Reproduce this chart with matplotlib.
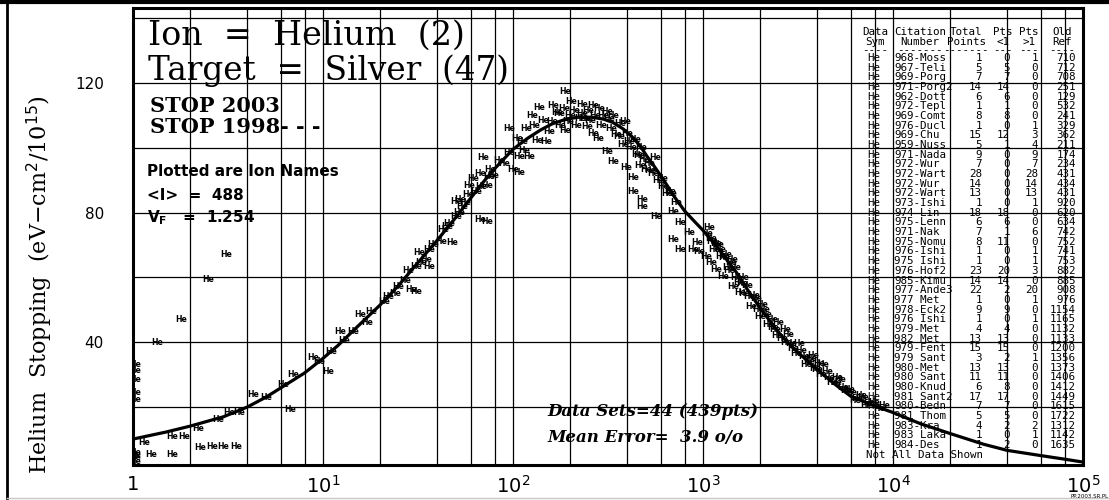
import matplotlib
matplotlib.use("Agg")
import matplotlib.pyplot as plt
from matplotlib.lines import Line2D

W, H = 1109, 500

# STOP 2003 stopping curve for He in Ag (energy, stopping)
stop_energy = [1, 1.5, 2, 3, 4, 5, 6, 8, 10, 12, 15, 20, 25, 30, 40, 50, 60, 70, 80,
               100, 120, 140, 160, 190, 220, 260, 300, 335, 380, 430, 470, 505, 550,
               600, 650, 700, 800, 900, 1000, 1200, 1350, 1500, 1700, 2000, 2500, 3000,
               4000, 5000, 6000, 8000, 1e4, 1.4e4, 2e4, 3e4, 4e4, 6e4, 8e4, 1e5]
stop_value = [10.1, 12.3, 14.1, 17.0, 20.0, 23.0, 25.9, 30.5, 35.0, 39.0, 44.5, 51.5,
              57.5, 63.0, 71.5, 78.5, 84.5, 89.5, 93.5, 99.5, 103.0, 105.5, 107.3,
              108.8, 109.4, 109.4, 108.8, 107.8, 105.8, 103.0, 100.3, 97.5, 94.5, 91.3,
              88.2, 85.2, 80.5, 77.3, 74.5, 69.0, 65.0, 61.5, 56.5, 50.5, 43.0, 38.0,
              31.5, 26.8, 23.3, 20.3, 18.3, 14.8, 11.8, 8.5, 6.6, 5.0, 3.9, 3.0]

# measured data points, plotted as ion names
pt_energy = [
    2.5, 3.1, 1.8, 1.34,
    1.03, 1.03, 1.03, 1.03, 1.03, 1.03, 1.03, 1.03, 1.03,
    1.15, 1.25, 1.6, 2.25, 2.6, 3.0, 3.5,
    1.6, 1.85, 2.2, 3.2, 3.6, 4.3, 6.7, 6.2, 7.0, 8.9, 10.6, 12.3, 14.4, 15.6,
    2.8, 5.0, 9.5, 11, 13, 17, 18,
    22, 25, 29, 31, 31, 32, 35, 36, 36, 43, 45, 48, 50, 50, 53, 54, 59, 62, 67, 67,
    70, 73, 73, 76, 79, 96, 100, 105, 108, 108, 118, 122, 126, 134, 138, 144, 150,
    163, 177, 188, 188, 203, 225, 232, 264, 264, 280, 313, 313, 337, 337, 366, 394,
    428, 428, 465, 480, 480, 505, 570, 670, 700, 700, 760, 760, 850, 890, 930, 960,
    1040, 1100, 1180, 1270, 1450, 1560,
    160, 170, 200, 215, 240, 250, 290, 300, 350, 380, 400, 420, 450, 470, 520, 550,
    580, 620, 650, 720,
    1100, 1150, 1200, 1300, 1350, 1400, 1500, 1600, 1650, 1800, 1900, 2000, 2100,
    2200, 2400, 2500, 2600, 2800, 3000, 3200, 3400, 3600, 3800, 4000, 4300, 4600,
    5000, 5300, 5700, 6000, 6500, 7000, 7500,
    1050, 1080, 1120, 1170, 1230, 1250, 1320, 1380, 1420, 1480, 1550, 1620, 1700,
    1750, 1850, 1950, 2050, 2150, 2300, 2350, 2450, 2700, 2750, 2900, 3100, 3300,
    3500, 3700, 3900, 4100, 4200, 4500, 4800, 5100, 5500, 5900, 6300, 6800, 7200,
    8000, 8500, 9000,
    130, 155, 175, 185, 195, 210, 230, 245, 255, 270, 285, 320, 330, 360, 390, 410,
    440, 460, 490, 530, 560, 610, 680,
    21, 24, 27, 28, 33, 38, 42, 46, 52, 56, 58, 64, 68, 75, 85, 90, 95, 112, 115,
]
pt_value = [
    59.4, 67.0, 47.0, 40.0,
    33.0, 31.4, 28.4, 24.4, 22.2, 6.1, 5.2, 4.3, 3.3,
    8.9, 5.2, 5.2, 7.4, 7.7, 7.7, 7.7,
    10.8, 10.8, 13.4, 18.2, 18.2, 23.8, 19.1, 26.9, 29.9, 35.4, 30.9, 43.4, 43.4, 48.4,
    16.0, 23.0, 34.0, 37.0, 40.5, 46.0, 49.5,
    54.1, 57.2, 56.3, 55.7, 63.4, 67.7, 65.6, 68.7, 63.4, 74.8, 75.8, 70.8, 83.4, 78.9,
    84.1, 82.0, 88.2, 90.4, 91.9, 77.9, 97.1, 88.2, 77.3, 93.4, 91.3, 105.8, 93.4,
    102.7, 97.4, 92.4, 105.8, 97.4, 109.8, 102.1, 112.4, 108.3, 101.8, 112.9, 106.7,
    117.3, 105.2, 114.4, 108.9, 113.4, 112.9, 104.3, 102.7, 111.1, 98.7, 109.8, 95.6,
    107.4, 94.0, 90.9, 86.4, 94.4, 84.1, 82.0, 93.4, 78.9, 86.4, 80.4, 71.7, 77.0,
    68.7, 73.9, 68.7, 70.8, 68.0, 66.4, 64.6, 62.4, 60.4, 57.2, 55.3,
    108, 111, 110, 107, 109, 111.5, 107, 110, 104, 101, 104.5, 100, 98, 100, 95, 92,
    90, 88, 86, 83,
    72, 68.5, 70, 66, 63, 64.5, 60, 58, 55, 51, 53.5, 48, 50, 45.5, 44, 46, 41,
    42.5, 38, 39.5, 35.5, 34, 36, 31.5, 33, 29, 27.5, 28.5, 25, 24.5, 22.5, 23, 21.5,
    73.5, 75.5, 71, 70.5, 68.5, 66.5, 67, 62, 65.5, 63, 58.5, 60, 57.5,
    54, 54.5, 50, 51.5, 48.5, 47, 44.5, 42, 44, 40, 39.5, 36.5, 37.5,
    33, 35, 32, 33.5, 30, 31, 27.5, 29, 26, 25.5, 22, 23.5, 20.5,
    21.5, 19.5, 20.5,
    107, 105, 110.5, 112, 108, 111.5, 110.5, 106.5, 108.5, 110, 112, 109, 106, 103.5,
    108, 102, 102.5, 97.5, 96.5, 93, 97, 90.5, 86,
    52.5, 55, 59, 62, 64.5, 70, 71, 76.5, 80, 83, 85.5, 86.5, 88, 91, 96, 95, 98.5,
    102, 99,
]

# grid lines and tick labels
grid_x = [m * 10 ** k for k in range(5) for m in (2, 4, 6, 8)] + [10 ** k for k in range(1, 5)]
grid_y = [20, 40, 60, 80, 100, 120, 140]
ytick_vals = [40, 80, 120]
xtick_vals = [1, 1e1, 1e2, 1e3, 1e4, 1e5]
xtick_text = ['1', r'$10^{1}$', r'$10^{2}$', r'$10^{3}$', r'$10^{4}$', r'$10^{5}$']

# data-set table
tbl_sym = ['He'] * 41
tbl_cit = ['968-Moss', '967-Teli', '969-Porg', '971-Porg2', '962-Dott', '972-Tepl',
           '969-Comt', '976-Ducl', '969-Chu', '959-Nuss', '971-Nada', '972-Wur',
           '972-Wart', '972-Wur', '972-Wart', '973-Ishi', '974-Lin', '975-Lenn',
           '971-Nak', '975-Nomu', '976-Ishi', '975 Ishi', '976-Hof2', '985-Kimu',
           '977-Ande3', '977 Met', '978-Eck2', '976 Ishi', '979-Met', '982 Met',
           '979-Fent', '979 Sant', '980-Met', '980 Sant', '980-Knud', '981 Sant2',
           '980-Bedn', '981 Thom', '983-Kra', '983 Laka', '984-Des']
tbl_total = ['1', '5', '7', '14', '6', '1', '8', '1', '15', '5', '9', '7', '28', '14',
             '13', '1', '18', '6', '7', '8', '1', '1', '23', '14', '22', '1', '9', '1',
             '4', '13', '15', '3', '13', '11', '6', '17', '7', '5', '4', '1', '1']
tbl_lt1 = ['0', '5', '7', '14', '6', '1', '8', '0', '12', '1', '0', '0', '0', '0', '0',
           '0', '18', '6', '1', '11', '0', '0', '20', '14', '2', '0', '9', '0', '4',
           '13', '15', '2', '13', '11', '8', '17', '7', '5', '2', '0', '2']
tbl_gt1 = ['1', '0', '0', '0', '0', '0', '0', '1', '3', '4', '9', '7', '28', '14', '13',
           '1', '0', '0', '6', '0', '1', '1', '3', '0', '20', '1', '0', '1', '0', '0',
           '0', '1', '0', '0', '0', '0', '0', '0', '2', '1', '0']
tbl_ref = ['710', '712', '708', '251', '129', '532', '241', '329', '362', '211', '174',
           '234', '431', '434', '431', '920', '620', '634', '742', '752', '741', '753',
           '882', '885', '908', '976', '1154', '1165', '1132', '1133', '1200', '1356',
           '1373', '1406', '1412', '1449', '1615', '1722', '1312', '1142', '1635']


def fx(x):
    return x / W


def fy(y):
    return 1 - y / H


fig = plt.figure(figsize=(W / 100, H / 100), dpi=100)
fig.patch.set_facecolor('white')
ax = fig.add_axes([fx(133), fy(465), (1083 - 133) / W, (465 - 8) / H])
ax.set_xscale('log')
ax.set_xlim(1, 1e5)
ax.set_ylim(2.1, 143.1)

for gx in grid_x:
    ax.axvline(gx, color='black', lw=0.9, zorder=1)
for gy in grid_y:
    ax.axhline(gy, color='black', lw=0.9, zorder=1)

ax.plot(stop_energy, stop_value, color='black', lw=2.3, zorder=3,
        solid_joinstyle='round')

for e, s in zip(pt_energy, pt_value):
    ax.text(e, s, 'He', fontsize=5.6, ha='center', va='center', color='black',
            family='DejaVu Sans', fontweight='bold', clip_on=True, zorder=4)

for sp in ax.spines.values():
    sp.set_linewidth(2.2)
    sp.set_color('black')

ax.set_yticks(ytick_vals)
ax.set_yticklabels([str(v) for v in ytick_vals], fontsize=11, family='DejaVu Sans')
ax.set_xticks(xtick_vals)
ax.set_xticklabels(xtick_text, fontsize=14, family='DejaVu Sans')
ax.xaxis.set_minor_locator(matplotlib.ticker.NullLocator())
ax.tick_params(axis='y', length=0, pad=21)
ax.tick_params(axis='x', length=0, pad=7)

fig.text(fx(40), fy(285), r'Helium  Stopping  (eV$-$cm$^2$/10$^{15}$)', rotation=90,
         ha='center', va='center', fontsize=16, family='DejaVu Serif')

# headings inside the plot
fig.text(fx(148), fy(45), 'Ion  =  Helium  (2)', fontsize=24, family='DejaVu Serif',
         ha='left', va='baseline')
fig.text(fx(148), fy(80), 'Target  =  Silver  (47)', fontsize=23.5, family='DejaVu Serif',
         ha='left', va='baseline')
fig.text(fx(150), fy(112), 'STOP 2003', fontsize=15, family='DejaVu Serif',
         fontweight='bold', ha='left', va='baseline')
fig.text(fx(150), fy(133), 'STOP 1998- - -', fontsize=15, family='DejaVu Serif',
         fontweight='bold', ha='left', va='baseline')
fig.text(fx(147), fy(171), 'Plotted are Ion Names', fontsize=11, family='DejaVu Sans',
         fontweight='bold', ha='left', va='center')
fig.text(fx(147), fy(195), '<I>  =  488', fontsize=11, family='DejaVu Sans',
         fontweight='bold', ha='left', va='center')
fig.text(fx(147), fy(218), r'V$_\mathbf{F}$   =  1.254', fontsize=11, family='DejaVu Sans',
         fontweight='bold', ha='left', va='center')

fig.text(fx(547), fy(412), 'Data Sets=44 (439pts)', fontsize=12, family='DejaVu Serif',
         fontweight='bold', style='italic', ha='left', va='center')
fig.text(fx(547), fy(437), 'Mean Error=  3.9 o/o', fontsize=12, family='DejaVu Serif',
         fontweight='bold', style='italic', ha='left', va='center')

# data-set table
tfont = dict(fontsize=7.8, family='DejaVu Sans Mono', va='center', color='black')
headers = [('Data', 'Sym', 875), ('Citation', 'Number', 920), ('Total', 'Points', 966),
           ('Pts', '<1', 1003), ('Pts', '>1', 1029), ('Old', 'Ref', 1062)]
for h1, h2, cx in headers:
    fig.text(fx(cx), fy(32), h1, ha='center', **tfont)
    fig.text(fx(cx), fy(42), h2, ha='center', **tfont)
    fig.text(fx(cx), fy(50), '-' * min(len(h2) + 1, 7), ha='center', **tfont)

row0, dy = 58, 9.675
for i in range(len(tbl_cit)):
    y = fy(row0 + i * dy)
    fig.text(fx(867), y, tbl_sym[i], ha='left', **tfont)
    fig.text(fx(894), y, tbl_cit[i], ha='left', **tfont)
    fig.text(fx(982), y, tbl_total[i], ha='right', **tfont)
    fig.text(fx(1010), y, tbl_lt1[i], ha='right', **tfont)
    fig.text(fx(1038), y, tbl_gt1[i], ha='right', **tfont)
    fig.text(fx(1076), y, tbl_ref[i], ha='right', **tfont)
fig.text(fx(866), fy(row0 + len(tbl_cit) * dy), 'Not All Data Shown', ha='left', **tfont)

fig.text(fx(1090), fy(496), 'PP.2003.SR.PL', fontsize=4, family='DejaVu Sans',
         ha='center', va='center')

# page frame
fig.add_artist(Line2D([0, 1], [fy(2), fy(2)], color='black', lw=3, transform=fig.transFigure))
fig.add_artist(Line2D([fx(7), fx(7)], [fy(2), fy(498)], color='black', lw=2,
                      transform=fig.transFigure))
fig.add_artist(Line2D([fx(7), 1], [fy(498), fy(498)], color='#c8c8c8', lw=1,
                      transform=fig.transFigure))

fig.savefig('out.png', dpi=100)
